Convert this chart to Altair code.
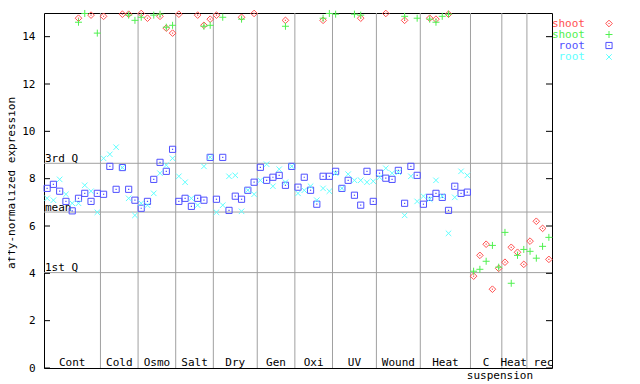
import altair as alt
import pandas as pd

FONT = "DejaVu Sans Mono"
FS = 11

# ---- data (sample slots 0..80) ----
red_k = [5, 7, 9, 12, 13, 15, 16, 18, 19, 20, 21, 24, 25, 26, 27,
         31, 33, 38, 44, 50, 54, 57, 61, 62, 64,
         68, 69, 70, 71, 72, 73, 74, 75, 76, 77, 78, 79, 80]
red_v = [14.78, 14.91, 14.86, 14.95, 14.95, 14.98, 14.78, 14.86, 14.36, 14.15, 14.95, 14.91, 14.48, 14.74, 14.91,
         14.82, 14.98, 14.69, 14.69, 14.78, 14.98, 14.69, 14.78, 14.74, 14.95,
         3.88, 4.76, 5.23, 3.33, 4.21, 4.47, 5.10, 4.89, 4.38, 5.36, 6.20, 5.90, 4.59]

green_k = [5, 6, 8, 13, 14, 15, 17, 18, 19, 20,
           25, 26, 28, 31, 38, 44, 45, 46, 49, 50,
           57, 59, 61, 62, 63, 64,
           68, 69, 70, 71, 72, 73, 74, 75, 76, 77, 78, 79, 80]
green_v = [14.61, 14.98, 14.15, 14.91, 14.69, 14.82, 14.91, 14.95, 14.40, 14.48,
           14.44, 14.48, 14.82, 14.74, 14.44, 14.78, 14.98, 14.95, 14.95, 14.91,
           14.86, 14.78, 14.74, 14.61, 14.86, 14.95,
           4.09, 4.17, 4.51, 5.18, 4.26, 5.73, 3.58, 4.76, 5.01, 4.93, 4.64, 5.14, 5.52]

blue_v = [7.59, 7.76, 7.47, 7.04, 6.64, 7.17, 7.38, 7.04, 7.38, 7.34,
          8.52, 7.55, 8.47, 7.55, 7.09, 6.75, 7.04, 7.97, 8.69, 8.31,
          9.24, 7.04, 7.17, 6.83, 7.17, 7.09, 8.90, 7.13, 8.90, 6.66,
          7.26, 7.13, 7.51, 7.85, 8.48, 7.93, 8.06, 8.14, 7.72, 8.52,
          7.64, 8.06, 7.51, 6.92, 8.10, 8.10, 8.31, 7.59, 7.93, 7.30,
          6.88, 8.31, 7.04, 8.23, 8.02, 7.97, 8.35, 6.96, 8.52, 8.14,
          6.92, 7.21, 7.38, 7.21, 6.66, 7.68, 7.38, 7.43]
cyan_v = [7.17, 7.09, 7.97, 7.34, 6.96, 6.96, 7.72, 7.47, 6.58, 8.86,
          9.03, 9.33, 8.47, 7.17, 6.45, 6.96, 6.88, 7.38, 8.23, 8.57,
          8.86, 8.10, 7.85, 7.17, 6.88, 8.52, 8.90, 6.58, 6.88, 8.10,
          8.14, 6.62, 7.51, 7.34, 7.93, 8.61, 7.68, 8.40, 7.85, 8.52,
          7.38, 7.51, 7.68, 7.09, 7.59, 7.47, 8.23, 7.59, 8.19, 7.93,
          7.93, 7.85, 7.89, 8.06, 8.44, 8.23, 8.27, 6.45, 8.10, 7.04,
          7.26, 7.13, 7.93, 7.26, 5.69, 7.21, 8.31, 8.14]

categories = ["Cont", "Cold", "Osmo", "Salt", "Dry", "Gen", "Oxi", "UV", "Wound", "Heat", "C", "Heat rec"]
boundaries = [8.5, 14.5, 20.5, 26.5, 33.5, 39.5, 45.5, 52.5, 59.5, 67.5, 72.5, 76.5]
label_pos = [4, 11.5, 17.5, 23.5, 30, 36.5, 42.5, 49, 56, 63.5, 70, 76.5]

quart_names = ["3rd Q", "mean", "1st Q"]
quart_vals = [8.65, 6.59, 4.03]

y_ticks = [0, 2, 4, 6, 8, 10, 12, 14]

series_names = ["shoot", "shoot", "root", "root"]
series_colors = ["#ff5050", "#50f050", "#5050ff", "#60ffff"]

# ---- build tables ----
red_df = pd.DataFrame({"k": red_k, "v": red_v})
green_df = pd.DataFrame({"k": green_k, "v": green_v})
blue_df = pd.DataFrame({"k": list(range(len(blue_v))), "v": blue_v})
cyan_df = pd.DataFrame({"k": list(range(len(cyan_v))), "v": cyan_v})
sep_df = pd.DataFrame({"b": boundaries})
lab_df = pd.DataFrame({"p": label_pos, "t": categories})
q_df = pd.DataFrame({"q": quart_vals, "n": quart_names})
tick_df = pd.DataFrame({"t": y_ticks})
one = pd.DataFrame({"i": [0]})

W, H = 508, 355
xs = alt.Scale(domain=[-0.5, 80.5], nice=False, zero=False)
ys = alt.Scale(domain=[0, 15], nice=False, zero=False)
yaxis = alt.Axis(values=y_ticks, ticks=False, tickSize=0, labelPadding=9, domain=False, grid=False,
                 title=None, labelFont=FONT, labelFontSize=FS, labelColor="black")


def X(f):
    return alt.X(f, type="quantitative", scale=xs, axis=None)


def Y(f):
    return alt.Y(f, type="quantitative", scale=ys, axis=yaxis)


GRAY = "#a0a0a0"
layers = []

layers.append(alt.Chart(sep_df).mark_rule(color=GRAY, strokeWidth=1).encode(
    x=X("b"), y=alt.value(0), y2=alt.value(H)))
layers.append(alt.Chart(q_df).mark_rule(color=GRAY, strokeWidth=1).encode(
    y=Y("q"), x=alt.value(0), x2=alt.value(W)))
layers.append(alt.Chart(q_df).mark_text(font=FONT, fontSize=FS, align="left", baseline="alphabetic",
                                        dy=-1.5, color="black").encode(
    y=Y("q"), x=alt.value(1), text="n:N"))

PLUS = "M-1,0L1,0M0,-1L0,1"
XSHAPE = "M-1,-1L1,1M-1,1L1,-1"
shapes = ["diamond", PLUS, "square", XSHAPE]
sizes = [44, 49, 38, 30]
dotted = [True, False, True, False]

for df, shp, sz, col, dot in zip([red_df, green_df, blue_df, cyan_df], shapes, sizes, series_colors, dotted):
    layers.append(alt.Chart(df).mark_point(shape=shp, size=sz, filled=False, strokeWidth=1,
                                           color=col, opacity=1).encode(x=X("k"), y=Y("v")))
    if dot:
        layers.append(alt.Chart(df).mark_square(size=1.5, color=col, opacity=1).encode(x=X("k"), y=Y("v")))

# inward ticks left and right
layers.append(alt.Chart(tick_df).mark_rule(color="black", strokeWidth=1).encode(
    y=Y("t"), x=alt.value(0), x2=alt.value(6)))
layers.append(alt.Chart(tick_df).mark_rule(color="black", strokeWidth=1).encode(
    y=Y("t"), x=alt.value(W - 6), x2=alt.value(W)))

# category labels
layers.append(alt.Chart(lab_df).mark_text(font=FONT, fontSize=FS, align="center", baseline="alphabetic",
                                          color="black").encode(
    x=X("p"), y=alt.value(H - 2), text="t:N"))
layers.append(alt.Chart(pd.DataFrame({"p": [72.2], "t": ["suspension"]})).mark_text(
    font=FONT, fontSize=FS, align="center", baseline="alphabetic", color="black").encode(
    x=X("p"), y=alt.value(H + 11), text="t:N"))

# y title
layers.append(alt.Chart(one).mark_text(font=FONT, fontSize=FS, angle=270, align="center", baseline="middle",
                                       color="black").encode(
    x=alt.value(-32), y=alt.value(170), text=alt.value("affy-normalized expression")))

# legend
leg_y = [10.5, 21.5, 32.5, 44]
for i in range(4):
    layers.append(alt.Chart(one).mark_text(font=FONT, fontSize=FS, align="right", baseline="middle",
                                           color=series_colors[i]).encode(
        x=alt.value(541), y=alt.value(leg_y[i]), text=alt.value(series_names[i])))
    layers.append(alt.Chart(one).mark_point(shape=shapes[i], size=sizes[i], filled=False, strokeWidth=1,
                                            color=series_colors[i], opacity=1).encode(
        x=alt.value(565), y=alt.value(leg_y[i])))
    if dotted[i]:
        layers.append(alt.Chart(one).mark_square(size=1.5, color=series_colors[i], opacity=1).encode(
            x=alt.value(565), y=alt.value(leg_y[i])))

chart = alt.layer(*layers).properties(
    width=W, height=H,
    autosize=alt.AutoSizeParams(type="none"),
    padding={"left": 36, "top": 5, "right": 80, "bottom": 16},
    background="white",
).configure_view(stroke="black", strokeWidth=1)

chart.save("out.html", embed_options={"renderer": "svg", "actions": False})
